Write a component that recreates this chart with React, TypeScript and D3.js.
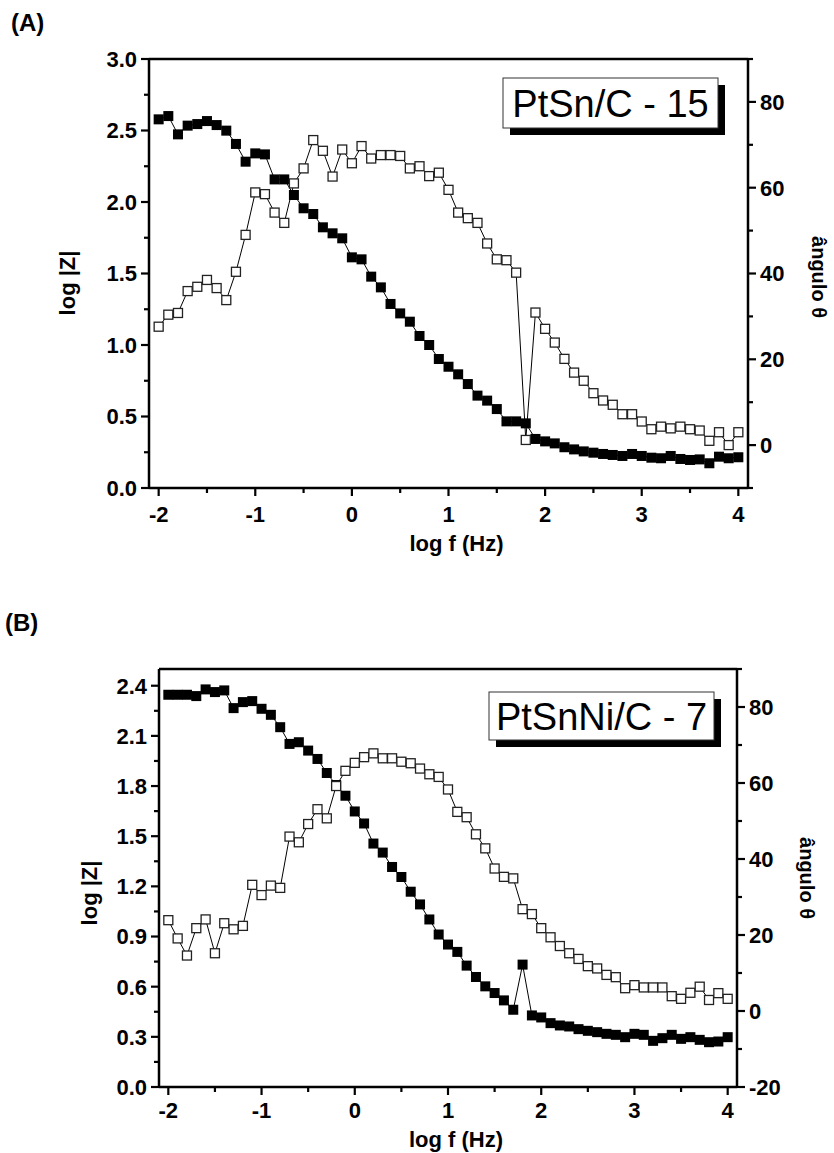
import React from "react";
import * as d3 from "d3";

// ---------- data ----------
const logF = [
  -2.0, -1.9, -1.8, -1.7, -1.6, -1.5, -1.4, -1.3, -1.2, -1.1,
  -1.0, -0.9, -0.8, -0.7, -0.6, -0.5, -0.4, -0.3, -0.2, -0.1,
  0.0, 0.1, 0.2, 0.3, 0.4, 0.5, 0.6, 0.7, 0.8, 0.9,
  1.0, 1.1, 1.2, 1.3, 1.4, 1.5, 1.6, 1.7, 1.8, 1.9,
  2.0, 2.1, 2.2, 2.3, 2.4, 2.5, 2.6, 2.7, 2.8, 2.9,
  3.0, 3.1, 3.2, 3.3, 3.4, 3.5, 3.6, 3.7, 3.8, 3.9, 4.0,
];

const logZ_A = [
  2.578, 2.601, 2.473, 2.534, 2.545, 2.566, 2.538, 2.499, 2.406, 2.282,
  2.34, 2.333, 2.158, 2.158, 2.049, 1.956, 1.916, 1.823, 1.781, 1.746,
  1.613, 1.599, 1.478, 1.403, 1.287, 1.221, 1.163, 1.063, 1.0, 0.902,
  0.848, 0.795, 0.727, 0.646, 0.611, 0.552, 0.466, 0.466, 0.452, 0.343,
  0.326, 0.312, 0.285, 0.27, 0.256, 0.247, 0.238, 0.231, 0.224, 0.238,
  0.224, 0.212, 0.208, 0.224, 0.203, 0.196, 0.2, 0.173, 0.219, 0.208, 0.215,
];

const angle_A = [
  27.6, 30.4, 30.8, 35.9, 36.9, 38.5, 36.6, 33.8, 40.4, 49.0,
  58.9, 58.5, 54.2, 51.8, 61.0, 64.5, 71.1, 68.6, 62.6, 68.9,
  65.7, 69.7, 66.8, 67.6, 67.6, 67.4, 64.5, 65.0, 62.7, 63.5,
  59.5, 54.2, 52.9, 51.8, 47.0, 43.3, 43.1, 40.2, 1.2, 30.9,
  27.1, 23.9, 20.1, 16.9, 15.0, 12.1, 10.4, 9.4, 7.2, 7.2,
  5.5, 3.7, 4.3, 3.9, 4.3, 3.7, 3.4, 1.0, 3.0, 0.0, 3.0,
];

const logZ_B = [
  2.346, 2.346, 2.346, 2.338, 2.378, 2.362, 2.372, 2.266, 2.302, 2.308,
  2.262, 2.226, 2.152, 2.052, 2.062, 2.012, 1.962, 1.878, 1.806, 1.742,
  1.648, 1.576, 1.456, 1.402, 1.316, 1.256, 1.168, 1.092, 1.002, 0.912,
  0.852, 0.808, 0.726, 0.658, 0.602, 0.562, 0.518, 0.462, 0.732, 0.428,
  0.416, 0.382, 0.368, 0.362, 0.346, 0.336, 0.328, 0.318, 0.312, 0.298,
  0.318, 0.312, 0.276, 0.292, 0.312, 0.288, 0.298, 0.282, 0.268, 0.272, 0.298,
];

const angle_B = [
  23.9, 19.1, 14.6, 21.8, 24.1, 15.2, 23.1, 21.5, 22.4, 33.2,
  30.5, 33.0, 32.4, 45.9, 44.4, 49.2, 53.1, 50.7, 59.2, 63.2,
  65.3, 66.8, 67.8, 66.5, 66.5, 65.6, 65.2, 63.8, 62.3, 61.6,
  58.3, 52.4, 51.0, 46.5, 42.8, 37.5, 35.3, 34.9, 26.8, 25.5,
  21.8, 19.4, 17.1, 15.2, 13.7, 11.8, 11.2, 9.5, 8.9, 6.0,
  6.8, 6.2, 6.2, 6.2, 3.9, 3.2, 4.8, 6.4, 2.9, 4.7, 3.2,
];

const xTicks = [-2, -1, 0, 1, 2, 3, 4];
const xMinor = [-1.5, -0.5, 0.5, 1.5, 2.5, 3.5];

const leftTicksA = [0, 0.5, 1.0, 1.5, 2.0, 2.5, 3.0];
const leftMinorA = [0.25, 0.75, 1.25, 1.75, 2.25, 2.75];
const rightTicksA = [0, 20, 40, 60, 80];
const rightMinorA = [-10, 10, 30, 50, 70, 90];

const leftTicksB = [0, 0.3, 0.6, 0.9, 1.2, 1.5, 1.8, 2.1, 2.4];
const leftMinorB = [0.15, 0.45, 0.75, 1.05, 1.35, 1.65, 1.95, 2.25];
const rightTicksB = [-20, 0, 20, 40, 60, 80];
const rightMinorB = [-10, 10, 30, 50, 70, 90];

const FONT = "'Liberation Sans', Arial, Helvetica, sans-serif";

type PanelProps = {
  tag: string;
  tagX: number;
  tagY: number;
  left: number;
  right: number;
  top: number;
  bottom: number;
  yDomain: [number, number];
  y2Domain: [number, number];
  leftTicks: number[];
  leftMinor: number[];
  rightTicks: number[];
  rightMinor: number[];
  mag: number[];
  ang: number[];
  label: string;
  box: { x0: number; x1: number; y0: number; y1: number };
  yTitleX: number;
  yTitleY: number;
  y2TitleX: number;
  y2TitleY: number;
  tickBaseline: number;
  titleBaseline: number;
};

function Panel(p: PanelProps) {
  const x = d3.scaleLinear().domain([-2.1, 4.1]).range([p.left, p.right]);
  const y = d3.scaleLinear().domain(p.yDomain).range([p.bottom, p.top]);
  const y2 = d3.scaleLinear().domain(p.y2Domain).range([p.bottom, p.top]);

  const magPts = logF.map((f, i) => [x(f), y(p.mag[i])] as [number, number]);
  const angPts = logF.map((f, i) => [x(f), y2(p.ang[i])] as [number, number]);
  const line = d3.line();

  const S = 10;
  const major = 8;
  const minor = 5;
  const axisW = 2.5;
  const tickW = 2.2;
  const FS = 22;

  return (
    <g>
      <text x={p.tagX} y={p.tagY} fontFamily={FONT} fontWeight="bold" fontSize={24}>
        {p.tag}
      </text>

      {/* data lines */}
      <path d={line(magPts) || ""} fill="none" stroke="#000" strokeWidth={1} />
      <path d={line(angPts) || ""} fill="none" stroke="#000" strokeWidth={1} />

      {magPts.map((pt, i) => (
        <rect key={"m" + i} x={pt[0] - S / 2} y={pt[1] - S / 2} width={S} height={S} fill="#000" />
      ))}
      {angPts.map((pt, i) => (
        <rect
          key={"a" + i}
          x={pt[0] - (S - 1) / 2}
          y={pt[1] - (S - 1) / 2}
          width={S - 1}
          height={S - 1}
          fill="#fff"
          stroke="#222"
          strokeWidth={1.3}
        />
      ))}

      {/* frame */}
      <line x1={p.left} x2={p.right} y1={p.top} y2={p.top} stroke="#000" strokeWidth={axisW} />
      <line x1={p.left} x2={p.right} y1={p.bottom} y2={p.bottom} stroke="#000" strokeWidth={axisW} />
      <line x1={p.left} x2={p.left} y1={p.top} y2={p.bottom} stroke="#000" strokeWidth={axisW} />
      <line x1={p.right} x2={p.right} y1={p.top} y2={p.bottom} stroke="#000" strokeWidth={axisW} />

      {/* x ticks */}
      {xTicks.map((t) => (
        <g key={"xt" + t}>
          <line x1={x(t)} x2={x(t)} y1={p.bottom} y2={p.bottom + major} stroke="#000" strokeWidth={tickW} />
          <text
            x={x(t)}
            y={p.tickBaseline}
            textAnchor="middle"
            fontFamily={FONT}
            fontWeight="bold"
            fontSize={FS}
          >
            {t}
          </text>
        </g>
      ))}
      {xMinor.map((t) => (
        <line key={"xm" + t} x1={x(t)} x2={x(t)} y1={p.bottom} y2={p.bottom + minor} stroke="#000" strokeWidth={tickW} />
      ))}
      <text
        x={(p.left + p.right) / 2 + 8}
        y={p.titleBaseline}
        textAnchor="middle"
        fontFamily={FONT}
        fontWeight="bold"
        fontSize={FS}
      >
        log f (Hz)
      </text>

      {/* left ticks */}
      {p.leftTicks.map((t) => (
        <g key={"lt" + t}>
          <line x1={p.left - major} x2={p.left} y1={y(t)} y2={y(t)} stroke="#000" strokeWidth={tickW} />
          <text
            x={p.left - 12}
            y={y(t)}
            dy="0.36em"
            textAnchor="end"
            fontFamily={FONT}
            fontWeight="bold"
            fontSize={FS}
          >
            {d3.format(".1f")(t)}
          </text>
        </g>
      ))}
      {p.leftMinor.map((t) => (
        <line key={"lm" + t} x1={p.left - minor} x2={p.left} y1={y(t)} y2={y(t)} stroke="#000" strokeWidth={tickW} />
      ))}
      <text
        transform={`translate(${p.yTitleX},${p.yTitleY}) rotate(-90)`}
        textAnchor="middle"
        dy="0.36em"
        fontFamily={FONT}
        fontWeight="bold"
        fontSize={FS}
      >
        log |Z|
      </text>

      {/* right ticks */}
      {p.rightTicks.map((t) => (
        <g key={"rt" + t}>
          <line x1={p.right} x2={p.right + major} y1={y2(t)} y2={y2(t)} stroke="#000" strokeWidth={tickW} />
          <text
            x={p.right + 12}
            y={y2(t)}
            dy="0.36em"
            textAnchor="start"
            fontFamily={FONT}
            fontWeight="bold"
            fontSize={FS}
          >
            {t}
          </text>
        </g>
      ))}
      {p.rightMinor.map((t) => (
        <line key={"rm" + t} x1={p.right} x2={p.right + minor} y1={y2(t)} y2={y2(t)} stroke="#000" strokeWidth={tickW} />
      ))}
      <text
        transform={`translate(${p.y2TitleX},${p.y2TitleY}) rotate(90)`}
        textAnchor="middle"
        dy="0.36em"
        fontFamily={FONT}
        fontWeight="bold"
        fontSize={20}
      >
        ângulo θ
      </text>

      {/* label box with shadow */}
      <rect
        x={p.box.x0 + 7}
        y={p.box.y0 + 7}
        width={p.box.x1 - p.box.x0}
        height={p.box.y1 - p.box.y0}
        fill="#000"
      />
      <rect
        x={p.box.x0}
        y={p.box.y0}
        width={p.box.x1 - p.box.x0}
        height={p.box.y1 - p.box.y0}
        fill="#fff"
        stroke="#333"
        strokeWidth={1}
      />
      <text
        x={(p.box.x0 + p.box.x1) / 2}
        y={(p.box.y0 + p.box.y1) / 2}
        dy="0.36em"
        textAnchor="middle"
        fontFamily={FONT}
        fontSize={38}
      >
        {p.label}
      </text>
    </g>
  );
}

export default function App() {
  return (
    <svg
      width={834}
      height={1153}
      viewBox="0 0 834 1153"
      style={{ position: "absolute", left: 0, top: 0, background: "#fff" }}
    >
      <rect width={834} height={1153} fill="#fff" />
      <Panel
        tag="(A)"
        tagX={11}
        tagY={31}
        left={149}
        right={748}
        top={59}
        bottom={488}
        yDomain={[0, 3]}
        y2Domain={[-10, 90]}
        leftTicks={leftTicksA}
        leftMinor={leftMinorA}
        rightTicks={rightTicksA}
        rightMinor={rightMinorA}
        mag={logZ_A}
        ang={angle_A}
        label="PtSn/C - 15"
        box={{ x0: 503, x1: 718, y0: 78, y1: 128 }}
        yTitleX={67}
        yTitleY={283}
        y2TitleX={819}
        y2TitleY={277}
        tickBaseline={522}
        titleBaseline={551}
      />
      <Panel
        tag="(B)"
        tagX={5}
        tagY={631}
        left={159}
        right={737}
        top={669}
        bottom={1087}
        yDomain={[0, 2.5]}
        y2Domain={[-20, 90]}
        leftTicks={leftTicksB}
        leftMinor={leftMinorB}
        rightTicks={rightTicksB}
        rightMinor={rightMinorB}
        mag={logZ_B}
        ang={angle_B}
        label="PtSnNi/C - 7"
        box={{ x0: 489, x1: 714, y0: 692, y1: 740 }}
        yTitleX={89}
        yTitleY={893}
        y2TitleX={807}
        y2TitleY={878}
        tickBaseline={1118}
        titleBaseline={1147}
      />
    </svg>
  );
}
